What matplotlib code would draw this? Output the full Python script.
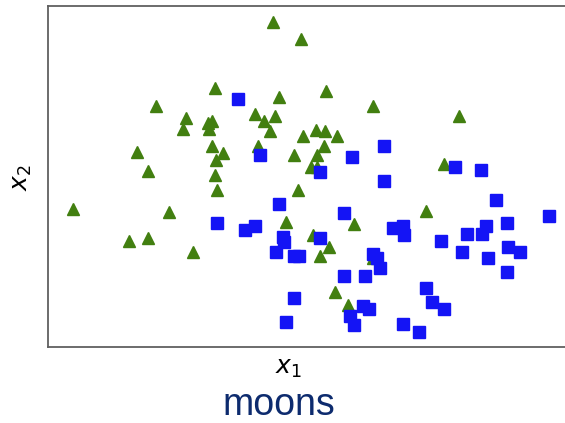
import matplotlib.pyplot as plt
import numpy as np

# moons data set, class 0 (triangles) and class 1 (squares)
x1_class0 = [0.15, 0.35, -0.28, 0.54, 0.19, -0.71, 0.88, 1.51, -0.49, 0.02,
             0.08, 0.16, -0.33, -0.30, -0.51, -0.32, 0.13, 0.37, 0.46, 0.53,
             0.62, -0.85, -0.30, -0.22, 0.04, 0.52, -0.27, 0.30, 0.47, 1.40,
             0.43, 0.47, -0.77, -0.28, -0.26, 0.33, -1.32, -0.61, 1.27, 0.24,
             0.74, 0.44, -0.77, -0.91, 0.56, -0.44, 0.49, 0.88, 0.60, 0.70]
x2_class0 = [1.38, 1.26, 0.90, 0.88, 0.83, 0.77, 0.77, 0.69, 0.68, 0.71,
             0.66, 0.69, 0.64, 0.66, 0.60, 0.60, 0.58, 0.55, 0.59, 0.58,
             0.55, 0.43, 0.47, 0.42, 0.47, 0.47, 0.37, 0.41, 0.41, 0.34,
             0.32, 0.32, 0.29, 0.26, 0.15, 0.15, 0.01, -0.01, 0.00, -0.08,
             -0.10, -0.18, -0.20, -0.22, -0.27, -0.30, -0.33, -0.35, -0.60, -0.69]

x1_class1 = [-0.11, 0.05, 0.96, 0.73, 1.48, 1.67, 0.49, 0.96, 1.78, 0.19,
             0.67, 2.17, -0.26, -0.06, 0.02, 0.22, 0.23, 0.49, 1.03, 1.10,
             1.11, 1.38, 1.57, 1.71, 1.68, 1.86, 1.87, 1.96, 1.53, 1.72,
             1.86, 0.17, 0.30, 0.34, 0.88, 0.91, 0.93, 0.67, 0.82, 1.27,
             1.31, 1.40, 0.30, 0.81, 0.85, 0.71, 0.74, 0.24, 1.10, 1.22]
x2_class1 = [0.82, 0.41, 0.47, 0.39, 0.32, 0.30, 0.28, 0.22, 0.08, 0.05,
             -0.02, -0.04, -0.09, -0.14, -0.11, -0.19, -0.23, -0.20, -0.13, -0.11,
             -0.18, -0.22, -0.17, -0.11, -0.17, -0.09, -0.27, -0.30, -0.30, -0.35,
             -0.45, -0.30, -0.33, -0.33, -0.32, -0.35, -0.42, -0.48, -0.48, -0.57,
             -0.67, -0.72, -0.64, -0.70, -0.72, -0.77, -0.84, -0.82, -0.83, -0.89]

fig = plt.figure(figsize=(5.65, 4.23), dpi=100)
ax = fig.add_axes([48 / 565, 76 / 423, 546 / 565, 341 / 423])

ax.plot(x1_class0, x2_class0, "^", color="#427f10", markersize=8,
        markeredgecolor="#427f10")
ax.plot(x1_class1, x2_class1, "s", color="#1414f5", markersize=8,
        markeredgecolor="#1414f5")

ax.set_xlim(-1.5, 2.5)
ax.set_ylim(-1, 1.5)
ax.set_xticks([])
ax.set_yticks([])
for spine in ax.spines.values():
    spine.set_color("#606060")
    spine.set_linewidth(1.3)

ax.set_xlabel(r"$x_1$", fontsize=18, va="center")
ax.xaxis.set_label_coords(0.441, -0.062)
ax.set_ylabel(r"$x_2$", fontsize=18, rotation=90, va="center")
ax.yaxis.set_label_coords(-0.048, 0.496)

fig.text(279 / 565, 1 - 405 / 423, "moons", fontsize=27, color="#0d2b6e",
         family="Liberation Sans", ha="center", va="center")

fig.savefig("out.png", dpi=100)
